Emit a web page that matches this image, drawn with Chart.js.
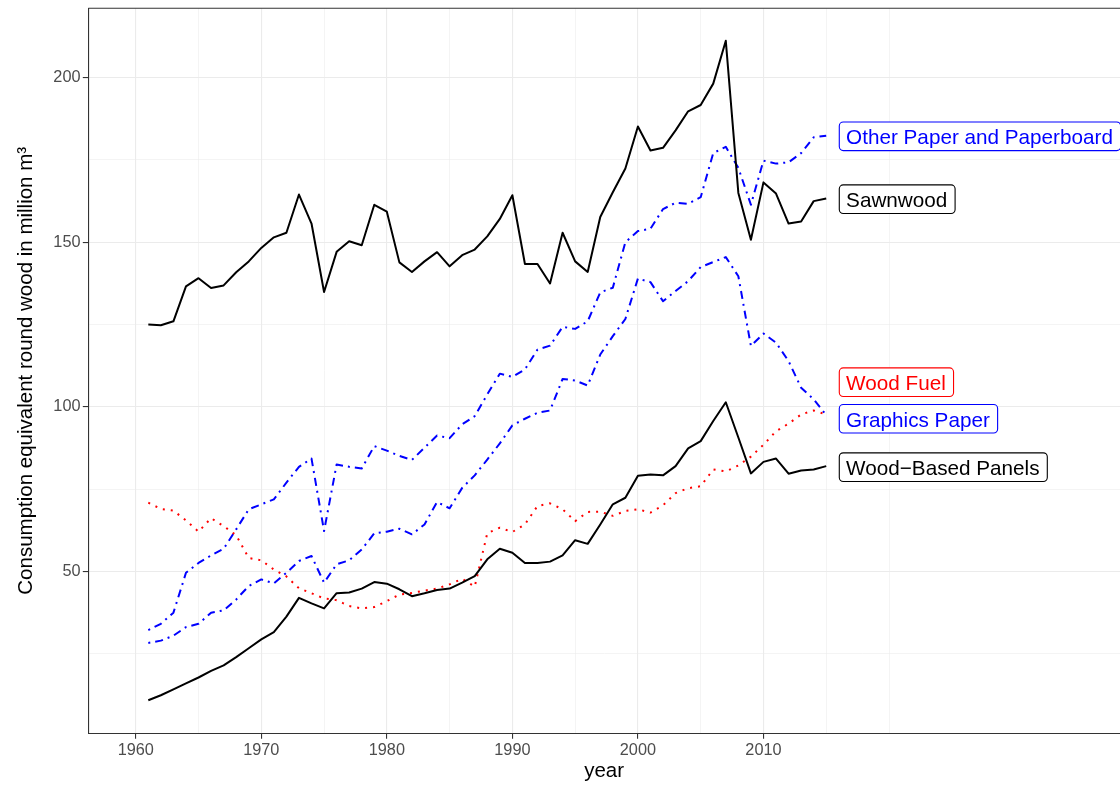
<!DOCTYPE html>
<html>
<head>
<meta charset="utf-8">
<script src="https://cdn.jsdelivr.net/npm/chart.js@4.4.1/dist/chart.umd.min.js"></script>
<style>
html,body{margin:0;padding:0;background:#ffffff;overflow:hidden}
canvas{display:block}
</style>
</head>
<body>
<canvas id="c" width="1120" height="787"></canvas>
<script>
// ---------- data ----------
const years = [1961,1962,1963,1964,1965,1966,1967,1968,1969,1970,
               1971,1972,1973,1974,1975,1976,1977,1978,1979,1980,
               1981,1982,1983,1984,1985,1986,1987,1988,1989,1990,
               1991,1992,1993,1994,1995,1996,1997,1998,1999,2000,
               2001,2002,2003,2004,2005,2006,2007,2008,2009,2010,
               2011,2012,2013,2014,2015];

const sawnwood = [125.0,124.8,126.0,136.6,139.1,136.1,136.9,140.9,144.2,148.3,
                  151.5,152.9,164.5,155.7,134.9,147.1,150.3,149.1,161.4,159.3,
                  143.9,141.0,144.2,147.0,142.7,146.1,147.8,151.8,157.1,164.3,
                  143.4,143.4,137.5,152.9,144.2,141.0,157.7,165.2,172.4,185.2,
                  177.9,178.7,184.0,189.8,191.7,198.2,211.2,165.0,150.8,168.2,
                  164.8,155.7,156.3,162.5,163.3];

const woodBasedPanels = [10.9,12.4,14.2,16.0,17.8,19.8,21.5,24.0,26.7,29.4,
                         31.6,36.3,42.0,40.3,38.8,43.4,43.6,44.8,46.8,46.3,
                         44.6,42.5,43.4,44.4,44.8,46.6,48.6,53.7,56.9,55.7,
                         52.6,52.6,53.0,54.9,59.5,58.4,64.3,70.4,72.4,79.1,
                         79.5,79.2,82.0,87.4,89.6,95.7,101.4,90.7,79.8,83.3,
                         84.3,79.7,80.7,81.0,82.0];

const otherPaper = [32.2,34.1,37.5,49.6,52.6,54.9,56.9,62.8,68.9,70.4,
                    71.9,77.0,81.8,84.3,62.3,82.5,81.8,81.3,88.1,86.7,
                    85.1,83.9,87.6,91.3,90.5,94.7,97.2,103.8,110.1,109.1,
                    111.4,117.4,118.6,124.3,123.7,126.0,134.8,136.2,150.0,153.4,
                    154.1,160.1,162.0,161.7,163.7,177.1,179.0,172.6,161.4,174.8,
                    173.9,174.3,177.1,181.9,182.4];

const graphicsPaper = [28.3,29.0,30.5,33.1,34.1,37.5,38.2,41.5,45.6,47.6,
                       46.4,49.6,53.2,54.7,46.6,52.2,53.4,56.7,61.6,62.1,
                       63.0,61.3,64.3,71.1,69.2,75.4,79.2,84.0,88.9,94.4,
                       96.4,98.2,98.9,108.5,108.0,106.5,115.9,121.5,126.7,139.0,
                       137.9,132.1,135.2,138.2,142.5,144.0,145.5,139.7,118.5,122.3,
                       119.5,113.9,105.8,102.3,97.5];

const woodFuel = [70.9,69.0,68.5,65.5,62.1,66.2,63.8,61.0,54.1,53.4,
                  50.6,48.5,44.9,43.4,41.8,41.3,39.5,38.8,39.2,41.0,
                  43.0,43.5,44.2,44.8,46.1,47.8,45.4,61.6,63.3,62.0,
                  64.3,69.9,70.7,68.9,65.3,68.1,68.2,66.9,68.4,68.9,
                  67.9,70.1,73.8,75.3,75.9,81.0,80.4,82.2,84.9,88.5,
                  92.6,94.9,97.7,98.9,97.7];

const seriesNames = ['Other Paper and Paperboard','Sawnwood','Wood Fuel','Graphics Paper','Wood\u2212Based Panels'];
const labelYValues = [182.2,163.1,107.5,96.4,81.7];
const labelXValue = 2016;

const xGridValues = [1960,1965,1970,1975,1980,1985,1990,1995,2000,2005,2010,2015,2020];
const xTickLabels = [1960,1970,1980,1990,2000,2010];
const yGridValues = [25,50,75,100,125,150,175,200];
const yTickLabels = [50,100,150,200];

const xTitle = 'year';
const yTitle = 'Consumption equivalent round wood in million m\u00B3';

// ---------- helpers ----------
const FONT = "'Liberation Sans', Arial, Helvetica, sans-serif";
const toPoints = vals => years.map((yr, i) => ({x: yr, y: vals[i]}));

const labelPlugin = {
  id: 'endLabels',
  afterDatasetsDraw(chart) {
    const ctx = chart.ctx;
    const xs = chart.scales.x, ys = chart.scales.y;
    const colors = ['#0000FF','#000000','#FF0000','#0000FF','#000000'];
    ctx.save();
    ctx.font = '20.7px ' + FONT;
    seriesNames.forEach((name, i) => {
      const left = xs.getPixelForValue(labelXValue);
      const cy = ys.getPixelForValue(labelYValues[i]);
      const w = ctx.measureText(name).width + 14.6;
      const h = 28.6;
      const top = cy - h / 2;
      ctx.beginPath();
      ctx.roundRect(left + 0.5, top, w, h, 4);
      ctx.fillStyle = '#ffffff';
      ctx.fill();
      ctx.lineWidth = 1.1;
      ctx.strokeStyle = colors[i];
      ctx.stroke();
      ctx.fillStyle = colors[i];
      ctx.textBaseline = 'alphabetic';
      ctx.textAlign = 'left';
      ctx.fillText(name, left + 7.3, cy + 7.9);
    });
    ctx.restore();
  }
};

const topBorderPlugin = {
  id: 'topBorder',
  afterDraw(chart) {
    const {ctx, chartArea} = chart;
    ctx.save();
    ctx.strokeStyle = '#333333';
    ctx.lineWidth = 1.1;
    ctx.beginPath();
    ctx.moveTo(chartArea.left, chartArea.top);
    ctx.lineTo(chartArea.right + 2, chartArea.top);
    ctx.stroke();
    ctx.restore();
  }
};

const line = (data, color, dash, width) => ({
  data: toPoints(data),
  borderColor: color,
  borderWidth: width,
  borderDash: dash,
  borderCapStyle: 'butt',
  borderJoinStyle: 'round',
  pointRadius: 0,
  tension: 0,
  fill: false
});

new Chart(document.getElementById('c'), {
  type: 'line',
  data: {
    datasets: [
      line(sawnwood, '#000000', [], 2),
      line(woodBasedPanels, '#000000', [], 2),
      line(woodFuel, '#FF0000', [2, 6], 2),
      line(otherPaper, '#0000FF', [2, 5, 8, 5], 2),
      line(graphicsPaper, '#0000FF', [2, 5, 8, 5], 2)
    ]
  },
  options: {
    responsive: false,
    animation: false,
    devicePixelRatio: 1,
    layout: {padding: {top: 8.3, left: 0, right: 0, bottom: 0}},
    plugins: {legend: {display: false}, tooltip: {enabled: false}},
    scales: {
      x: {
        type: 'linear',
        min: 1956.22,
        max: 2038.4,
        afterBuildTicks: s => { s.ticks = xGridValues.map(v => ({value: v})); },
        afterFit: s => { s.height = 53.7; s.paddingLeft = 0; s.paddingRight = 0; },
        ticks: {
          autoSkip: false, maxRotation: 0, minRotation: 0,
          padding: 2.2,
          color: '#4D4D4D',
          font: {family: FONT, size: 16.3},
          callback: v => xTickLabels.includes(v) ? String(v) : ''
        },
        grid: {
          color: '#EBEBEB',
          lineWidth: c => (c.tick && xTickLabels.includes(c.tick.value)) ? 1.1 : 0.55,
          drawTicks: true,
          tickLength: 5.5,
          tickWidth: 1.1,
          tickColor: c => (c.tick && xTickLabels.includes(c.tick.value)) ? '#333333' : 'rgba(0,0,0,0)'
        },
        border: {display: true, color: '#333333', width: 1.1},
        title: {display: true, text: xTitle, color: '#000000', font: {family: FONT, size: 20.5}, padding: {top: 0, bottom: 3.1}}
      },
      y: {
        type: 'linear',
        min: 0.85,
        max: 221.08,
        afterBuildTicks: s => { s.ticks = yGridValues.map(v => ({value: v})); },
        afterFit: s => { s.width = 88.3; s.paddingTop = 0; s.paddingBottom = 0; },
        ticks: {
          autoSkip: false,
          padding: 2.3,
          color: '#4D4D4D',
          font: {family: FONT, size: 16.3},
          callback: v => yTickLabels.includes(v) ? String(v) : ''
        },
        grid: {
          color: '#EBEBEB',
          lineWidth: c => (c.tick && yTickLabels.includes(c.tick.value)) ? 1.1 : 0.55,
          drawTicks: true,
          tickLength: 5.5,
          tickWidth: 1.1,
          tickColor: c => (c.tick && yTickLabels.includes(c.tick.value)) ? '#333333' : 'rgba(0,0,0,0)'
        },
        border: {display: true, color: '#333333', width: 1.1},
        title: {display: true, text: yTitle, color: '#000000', font: {family: FONT, size: 20.5}, padding: {top: 14, bottom: 0}}
      }
    }
  },
  plugins: [labelPlugin, topBorderPlugin]
});
</script>
</body>
</html>
